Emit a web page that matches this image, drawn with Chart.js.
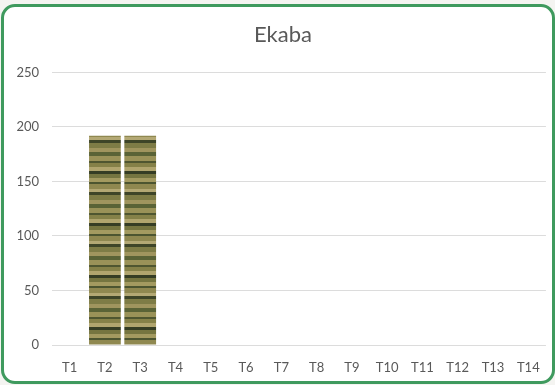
<!DOCTYPE html>
<html>
<head>
<meta charset="utf-8">
<script src="https://cdn.jsdelivr.net/npm/chart.js@4.4.1/dist/chart.umd.min.js"></script>
<style>
  html, body { margin: 0; padding: 0; background: #f4f4f1; }
  #wrap { position: relative; width: 555px; height: 385px; overflow: hidden; }
  #frame {
    position: absolute; left: 1px; top: 4px; width: 548px; height: 374px;
    border: 3px solid #3f9a5e; border-radius: 14px; background: #fff;
  }
  #chart { position: absolute; left: 0; top: 0; }
</style>
</head>
<body>
<div id="wrap">
  <div id="frame"></div>
  <canvas id="chart" width="555" height="385"></canvas>
</div>
<script>
const categories = ['T1', 'T2', 'T3', 'T4', 'T5', 'T6', 'T7', 'T8', 'T9', 'T10', 'T11', 'T12', 'T13', 'T14'];
const values = [0, 192, 192, 0, 0, 0, 0, 0, 0, 0, 0, 0, 0, 0];
const yTicks = [0, 50, 100, 150, 200, 250];

// striped "photo" texture for the bars
function barTexture() {
    const c = document.createElement('canvas');
    c.width = 8; c.height = 52;
    const g = c.getContext('2d');
    const stripes = [
        ['#9a9258', 0, 5], ['#4f5630', 5, 2], ['#858148', 7, 4], ['#b0a56e', 11, 4],
        ['#353d24', 15, 3], ['#757540', 18, 4], ['#a39a60', 22, 4], ['#4c5530', 26, 2],
        ['#8f8850', 28, 5], ['#b3a874', 33, 3], ['#3e4528', 36, 3], ['#7e7c46', 39, 5],
        ['#a0955e', 44, 4], ['#5a6336', 48, 4]
    ];
    stripes.forEach(s => { g.fillStyle = s[0]; g.fillRect(0, s[1], 8, s[2]); });
    return g.createPattern(c, 'repeat');
}

// nudge the title box so it centres a little left of the plot
const titleShift = {
    id: 'titleShift',
    afterLayout(chart) {
        const t = chart.titleBlock;
        t.left = 20;
        t.width = t.right - t.left;
    }
};

const ctx = document.getElementById('chart').getContext('2d');
new Chart(ctx, {
    type: 'bar',
    data: {
        labels: categories,
        datasets: [{
            data: values,
            backgroundColor: barTexture(),
            borderWidth: 0,
            categoryPercentage: 1,
            barPercentage: 0.9
        }]
    },
    plugins: [titleShift],
    options: {
        responsive: false,
        animation: false,
        layout: { padding: { left: 0, right: 9, top: 0, bottom: 0 } },
        plugins: {
            legend: { display: false },
            tooltip: { enabled: false },
            title: {
                display: true,
                text: 'Ekaba',
                color: '#595959',
                font: { family: 'Lato', size: 22, weight: 'normal' },
                padding: { top: 22, bottom: 24 }
            }
        },
        scales: {
            x: {
                afterFit: axis => { axis.height = 40; },
                grid: { display: false, drawTicks: false },
                border: { display: false },
                ticks: { color: '#595959', font: { family: 'Lato', size: 13 }, padding: 15, maxRotation: 0 }
            },
            y: {
                min: 0,
                max: 250,
                afterBuildTicks: axis => { axis.ticks = yTicks.map(v => ({ value: v })); },
                afterFit: axis => { axis.width = 52; },
                grid: { color: '#dcdcdc', lineWidth: 1, drawTicks: false },
                border: { display: false },
                ticks: { color: '#595959', font: { family: 'Lato', size: 13 }, padding: 13 }
            }
        }
    }
});
</script>
</body>
</html>
